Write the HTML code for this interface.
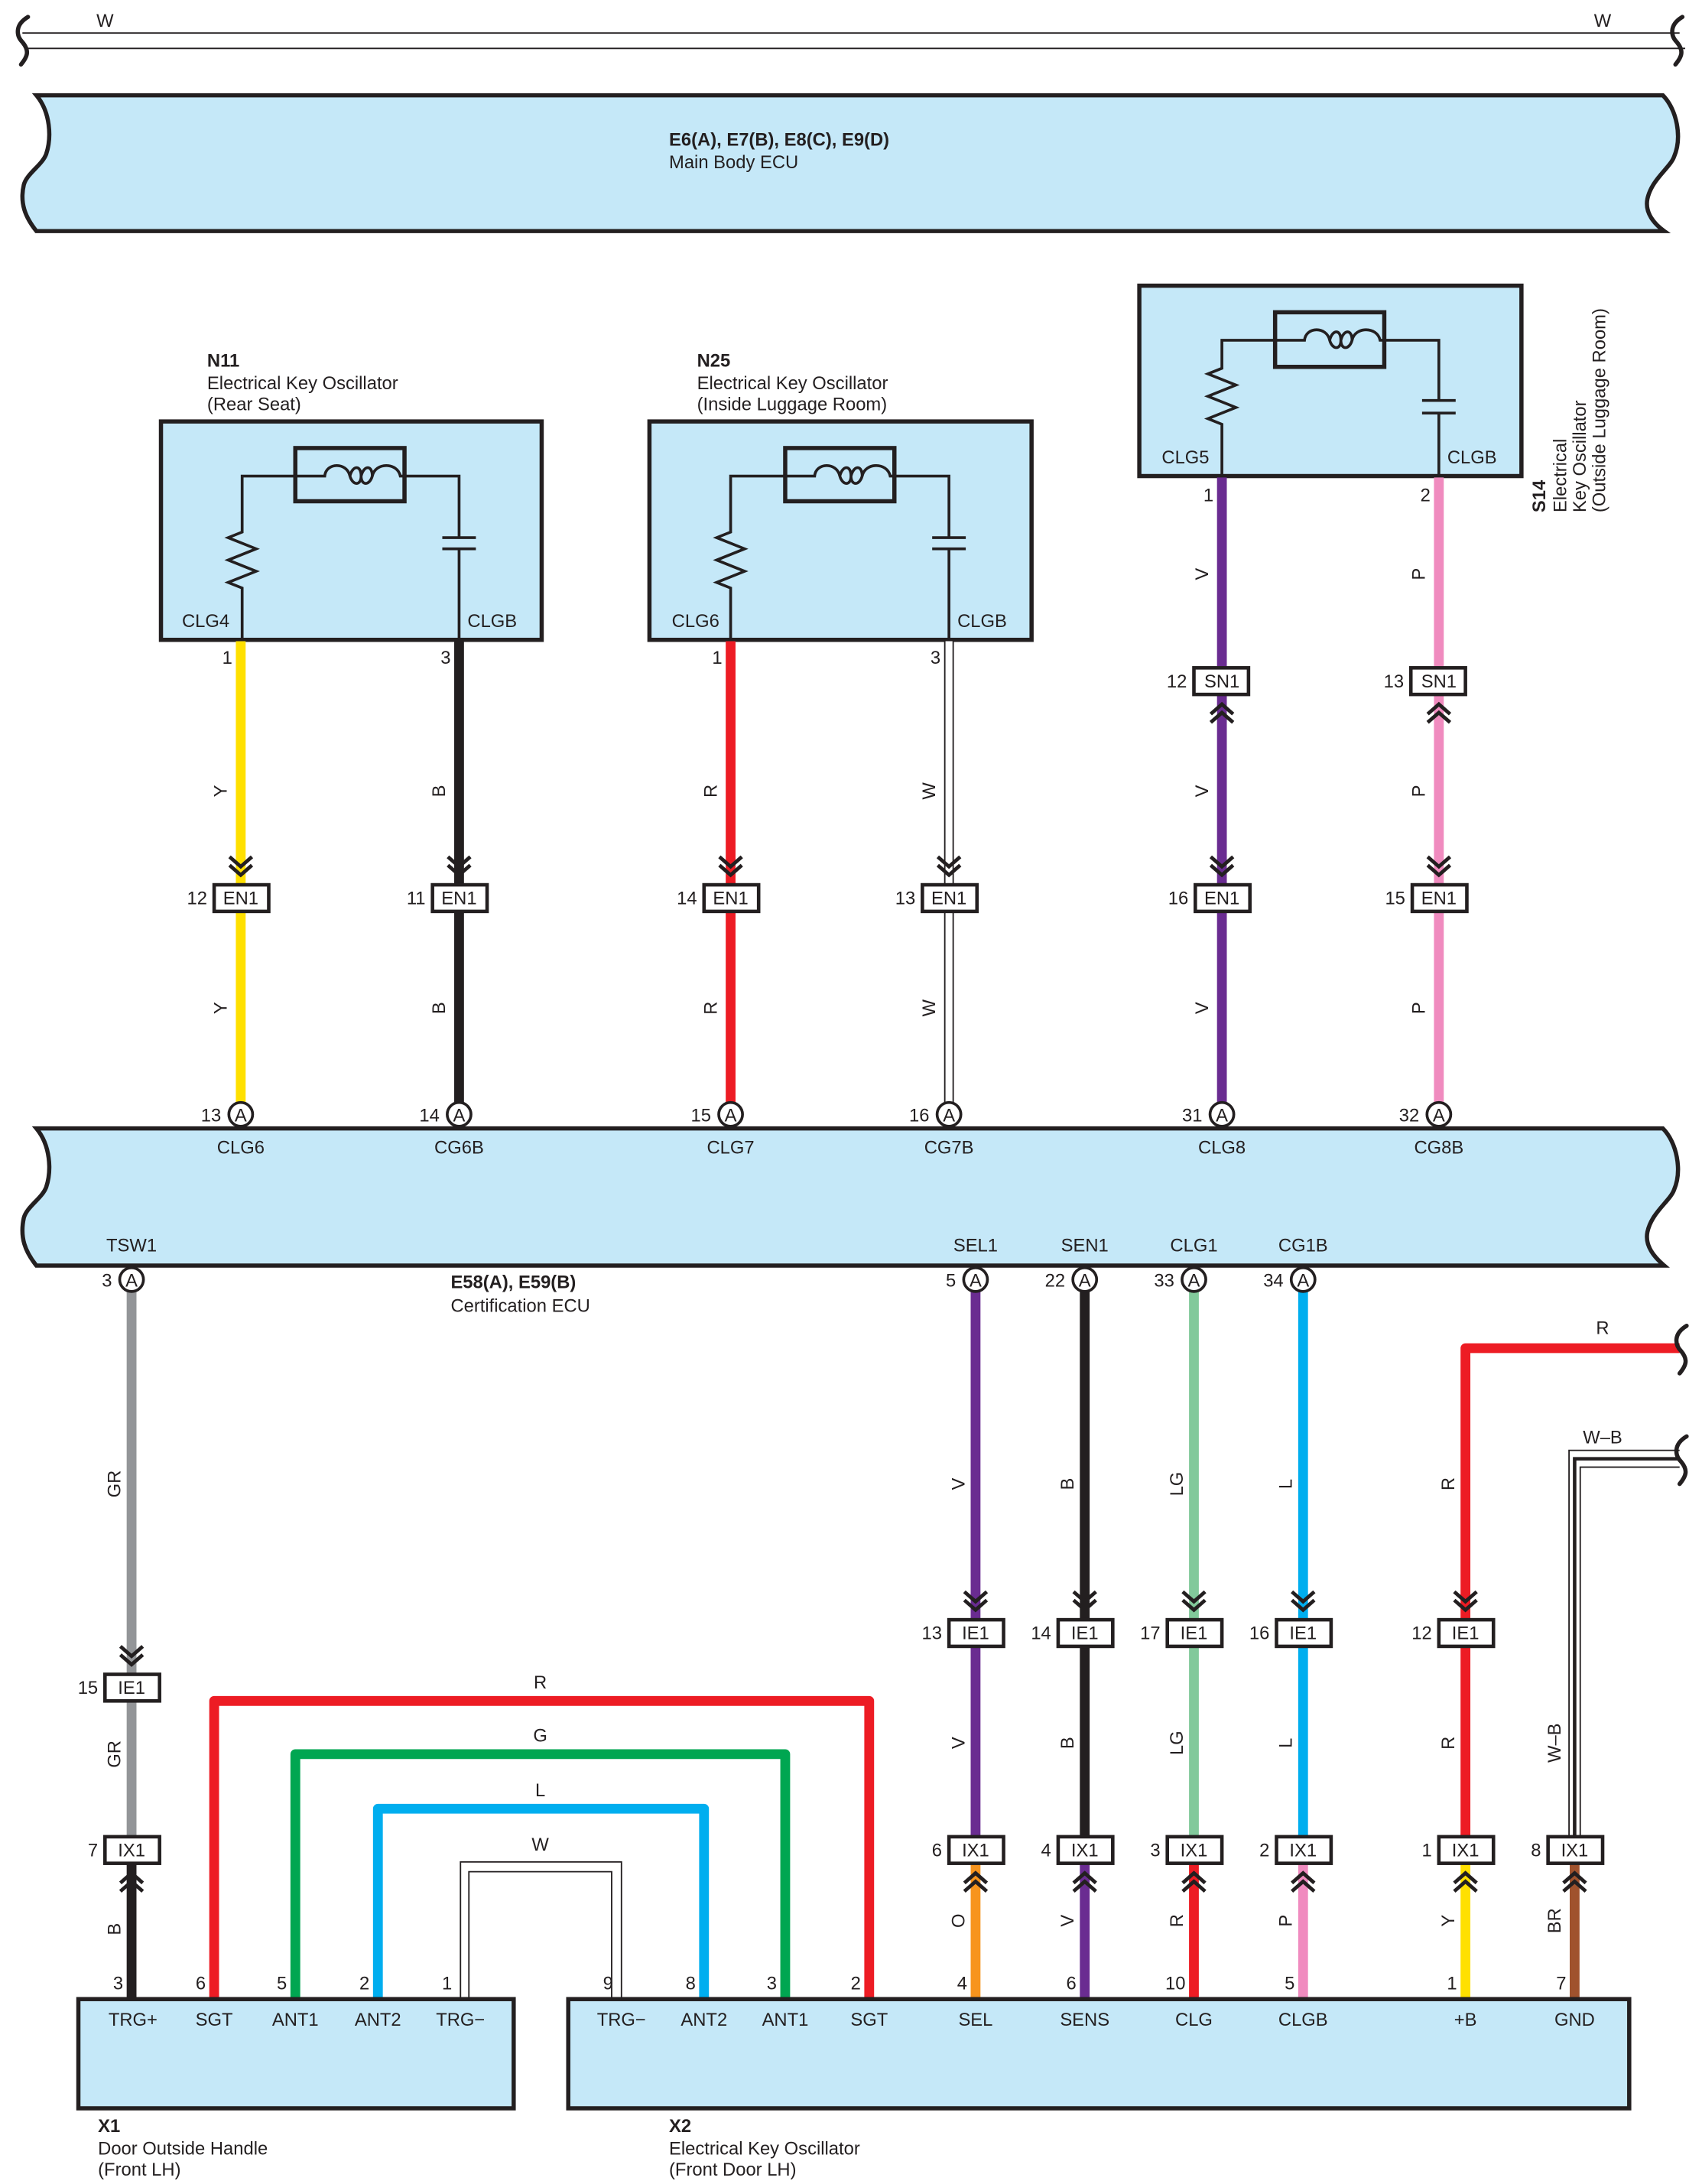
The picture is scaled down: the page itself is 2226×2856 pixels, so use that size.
<!DOCTYPE html>
<html><head><meta charset="utf-8"><style>
html,body{margin:0;padding:0;background:#fff}
svg{display:block}
text{font-family:"Liberation Sans",sans-serif;font-size:13px;fill:#231f20}
.b{font-weight:bold}
.m{text-anchor:middle}
.e{text-anchor:end}
</style></head><body>
<svg width="2226" height="2856" viewBox="0 0 1216 1560" xmlns="http://www.w3.org/2000/svg">
<defs>
<g id="cd" fill="none" stroke="#231f20" stroke-width="2.6"><path d="M-8,-20 L0,-13 L8,-20"/><path d="M-8,-14 L0,-7 L8,-14"/></g>
<g id="cu" fill="none" stroke="#231f20" stroke-width="2.6"><path d="M-8,20 L0,13 L8,20"/><path d="M-8,14 L0,7 L8,14"/></g>
<path id="sq" d="M4,-16 C-6,-8 -2,-2 2,2 C6,8 4,12 0,16" fill="none" stroke="#231f20" stroke-width="3" stroke-linecap="round"/>
</defs>

<!-- top W wire -->
<line x1="16" y1="23.5" x2="1200" y2="23.5" stroke="#231f20" stroke-width="1"/>
<line x1="20" y1="34.5" x2="1204" y2="34.5" stroke="#231f20" stroke-width="1"/>
<path d="M20,12 C10,18 12,26 16,30 C21,36 20,40 15,46" fill="none" stroke="#231f20" stroke-width="3" stroke-linecap="round"/>
<path d="M1202,12 C1192,18 1194,26 1198,30 C1203,36 1202,40 1197,46" fill="none" stroke="#231f20" stroke-width="3" stroke-linecap="round"/>
<text x="75" y="19" class="m">W</text><text x="1145" y="19" class="m">W</text>

<!-- Main Body ECU -->
<path d="M26,68 H1188 C1198,78 1202,98 1196,112 C1193,120 1180,128 1177,142 C1175,152 1182,160 1189,165 H26 C18,155 14,145 17,132 C19,124 30,118 33,110 C37,98 36,80 26,68 Z" fill="#c5e8f8" stroke="#231f20" stroke-width="3"/>
<text x="478" y="104" class="b">E6(A), E7(B), E8(C), E9(D)</text>
<text x="478" y="120">Main Body ECU</text>

<!-- N11 -->
<text x="148" y="262" class="b">N11</text>
<text x="148" y="278">Electrical Key Oscillator</text>
<text x="148" y="293">(Rear Seat)</text>
<rect x="115" y="301" width="272" height="156" fill="#c5e8f8" stroke="#231f20" stroke-width="3"/>
<g fill="none" stroke="#231f20" stroke-width="2">
<rect x="211" y="320" width="78" height="38" stroke-width="3"/>
<path d="M173,457 V420 L163,416 L183,408 L163,400 L183,392 L163,384 L173,380 V340 H232 C233,330 248,330 250,340 C252,347 258,347 258,340 C258,332 252,332 250,340 M258,340 C258,347 264,347 266,340 C266,332 260,332 258,340 M266,340 C268,330 284,330 286,340 H328 V384 M316,384 H340 M316,392 H340 M328,392 V457" />
</g>
<text x="130" y="448">CLG4</text><text x="334" y="448">CLGB</text>

<!-- N25 -->
<text x="498" y="262" class="b">N25</text>
<text x="498" y="278">Electrical Key Oscillator</text>
<text x="498" y="293">(Inside Luggage Room)</text>
<rect x="464" y="301" width="273" height="156" fill="#c5e8f8" stroke="#231f20" stroke-width="3"/>
<g fill="none" stroke="#231f20" stroke-width="2">
<rect x="561" y="320" width="78" height="38" stroke-width="3"/>
<path d="M522,457 V420 L512,416 L532,408 L512,400 L532,392 L512,384 L522,380 V340 H582 C583,330 598,330 600,340 C602,347 608,347 608,340 C608,332 602,332 600,340 M608,340 C608,347 614,347 616,340 C616,332 610,332 608,340 M616,340 C618,330 634,330 636,340 H678 V384 M666,384 H690 M666,392 H690 M678,392 V457" />
</g>
<text x="480" y="448">CLG6</text><text x="684" y="448">CLGB</text>

<!-- S14 -->
<rect x="814" y="204" width="273" height="136" fill="#c5e8f8" stroke="#231f20" stroke-width="3"/>
<g fill="none" stroke="#231f20" stroke-width="2">
<rect x="911" y="223" width="78" height="39" stroke-width="3"/>
<path d="M873,340 V303 L863,299 L883,291 L863,283 L883,275 L863,267 L873,263 V243 H932 C933,233 948,233 950,243 C952,250 958,250 958,243 C958,235 952,235 950,243 M958,243 C958,250 964,250 966,243 C966,235 960,235 958,243 M966,243 C968,233 984,233 986,243 H1028 V286 M1016,286 H1040 M1016,295 H1040 M1028,295 V340" />
</g>
<text x="830" y="331">CLG5</text><text x="1034" y="331">CLGB</text>
<g transform="translate(1104,366) rotate(-90)"><text x="0" y="0" class="b">S14</text><text x="0" y="15">Electrical</text><text x="0" y="29">Key Oscillator</text><text x="0" y="43">(Outside Luggage Room)</text></g>

<!-- upper wires -->
<g stroke-width="7" fill="none">
<line x1="172" y1="458" x2="172" y2="790" stroke="#ffe000"/>
<line x1="328" y1="458" x2="328" y2="790" stroke="#231f20"/>
<line x1="522" y1="458" x2="522" y2="790" stroke="#ed1c24"/>
<line x1="873" y1="341" x2="873" y2="790" stroke="#6a2c91"/>
<line x1="1028" y1="341" x2="1028" y2="790" stroke="#f08bbf"/>
</g>
<line x1="678" y1="458" x2="678" y2="790" stroke="#231f20" stroke-width="7"/>
<line x1="678" y1="458" x2="678" y2="790" stroke="#fff" stroke-width="5"/>

<!-- wire labels upper -->
<g>
<text transform="translate(162,565) rotate(-90)" class="m">Y</text>
<text transform="translate(162,720) rotate(-90)" class="m">Y</text>
<text transform="translate(318,565) rotate(-90)" class="m">B</text>
<text transform="translate(318,720) rotate(-90)" class="m">B</text>
<text transform="translate(512,565) rotate(-90)" class="m">R</text>
<text transform="translate(512,720) rotate(-90)" class="m">R</text>
<text transform="translate(668,565) rotate(-90)" class="m">W</text>
<text transform="translate(668,720) rotate(-90)" class="m">W</text>
<text transform="translate(863,410) rotate(-90)" class="m">V</text>
<text transform="translate(863,565) rotate(-90)" class="m">V</text>
<text transform="translate(863,720) rotate(-90)" class="m">V</text>
<text transform="translate(1018,410) rotate(-90)" class="m">P</text>
<text transform="translate(1018,565) rotate(-90)" class="m">P</text>
<text transform="translate(1018,720) rotate(-90)" class="m">P</text>
</g>
<text x="166" y="474" class="e">1</text><text x="322" y="474" class="e">3</text>
<text x="516" y="474" class="e">1</text><text x="672" y="474" class="e">3</text>
<text x="867" y="358" class="e">1</text><text x="1022" y="358" class="e">2</text>

<!-- SN1 connectors -->
<g>
<rect x="853" y="477" width="39" height="19" fill="#fff" stroke="#231f20" stroke-width="2.5"/><text x="873" y="491" class="m">SN1</text><text x="848" y="491" class="e">12</text>
<use href="#cu" x="873" y="496"/>
<rect x="1008" y="477" width="39" height="19" fill="#fff" stroke="#231f20" stroke-width="2.5"/><text x="1028" y="491" class="m">SN1</text><text x="1003" y="491" class="e">13</text>
<use href="#cu" x="1028" y="496"/>
</g>
<!-- EN1 connectors -->
<g>
<use href="#cd" x="172" y="632"/><rect x="153" y="632" width="39" height="19" fill="#fff" stroke="#231f20" stroke-width="2.5"/><text x="172" y="646" class="m">EN1</text><text x="148" y="646" class="e">12</text>
<use href="#cd" x="328" y="632"/><rect x="309" y="632" width="39" height="19" fill="#fff" stroke="#231f20" stroke-width="2.5"/><text x="328" y="646" class="m">EN1</text><text x="304" y="646" class="e">11</text>
<use href="#cd" x="522" y="632"/><rect x="503" y="632" width="39" height="19" fill="#fff" stroke="#231f20" stroke-width="2.5"/><text x="522" y="646" class="m">EN1</text><text x="498" y="646" class="e">14</text>
<use href="#cd" x="678" y="632"/><rect x="659" y="632" width="39" height="19" fill="#fff" stroke="#231f20" stroke-width="2.5"/><text x="678" y="646" class="m">EN1</text><text x="654" y="646" class="e">13</text>
<use href="#cd" x="873" y="632"/><rect x="854" y="632" width="39" height="19" fill="#fff" stroke="#231f20" stroke-width="2.5"/><text x="873" y="646" class="m">EN1</text><text x="849" y="646" class="e">16</text>
<use href="#cd" x="1028" y="632"/><rect x="1009" y="632" width="39" height="19" fill="#fff" stroke="#231f20" stroke-width="2.5"/><text x="1028" y="646" class="m">EN1</text><text x="1004" y="646" class="e">15</text>
</g>

<!-- Certification ECU -->
<path d="M26,806 H1188 C1198,816 1202,836 1196,850 C1193,858 1180,866 1177,880 C1175,890 1182,898 1189,904 H26 C18,894 14,884 17,870 C19,862 30,856 33,848 C37,836 36,818 26,806 Z" fill="#c5e8f8" stroke="#231f20" stroke-width="3"/>
<g>
<text x="172" y="824" class="m">CLG6</text><text x="328" y="824" class="m">CG6B</text><text x="522" y="824" class="m">CLG7</text><text x="678" y="824" class="m">CG7B</text><text x="873" y="824" class="m">CLG8</text><text x="1028" y="824" class="m">CG8B</text>
<text x="94" y="894" class="m">TSW1</text><text x="697" y="894" class="m">SEL1</text><text x="775" y="894" class="m">SEN1</text><text x="853" y="894" class="m">CLG1</text><text x="931" y="894" class="m">CG1B</text>
</g>
<text x="322" y="920" class="b">E58(A), E59(B)</text>
<text x="322" y="937">Certification ECU</text>

<!-- lower wires -->
<g stroke-width="7" fill="none" stroke-linejoin="round">
<line x1="94" y1="920" x2="94" y2="1321" stroke="#939598"/>
<line x1="94" y1="1321" x2="94" y2="1428" stroke="#231f20"/>
<line x1="697" y1="920" x2="697" y2="1321" stroke="#6a2c91"/>
<line x1="697" y1="1321" x2="697" y2="1428" stroke="#f7941d"/>
<line x1="775" y1="920" x2="775" y2="1321" stroke="#231f20"/>
<line x1="775" y1="1321" x2="775" y2="1428" stroke="#6a2c91"/>
<line x1="853" y1="920" x2="853" y2="1321" stroke="#82c99b"/>
<line x1="853" y1="1321" x2="853" y2="1428" stroke="#ed1c24"/>
<line x1="931" y1="920" x2="931" y2="1321" stroke="#00aeef"/>
<line x1="931" y1="1321" x2="931" y2="1428" stroke="#f08bbf"/>
<path d="M1200,963 H1047 V1321" stroke="#ed1c24"/>
<line x1="1047" y1="1321" x2="1047" y2="1428" stroke="#ffe000"/>
<line x1="1125" y1="1321" x2="1125" y2="1428" stroke="#a0522d"/>
<path d="M153,1428 V1215 H621 V1428" stroke="#ed1c24"/>
<path d="M211,1428 V1253 H561 V1428" stroke="#00a651"/>
<path d="M270,1428 V1292 H503 V1428" stroke="#00aeef"/>
</g>
<!-- W loop (white double) -->
<path d="M329,1428 V1330 H444 V1428" fill="none" stroke="#231f20" stroke-width="1"/>
<path d="M335,1428 V1337 H437 V1428" fill="none" stroke="#231f20" stroke-width="1"/>
<!-- W-B -->
<path d="M1200,1036 H1121 V1321" fill="none" stroke="#231f20" stroke-width="1"/>
<path d="M1200,1042 H1125 V1321" fill="none" stroke="#231f20" stroke-width="2.5"/>
<path d="M1200,1048 H1129 V1321" fill="none" stroke="#231f20" stroke-width="1"/>
<path d="M1205,947 C1195,953 1197,961 1201,965 C1206,971 1205,975 1200,981" fill="none" stroke="#231f20" stroke-width="3" stroke-linecap="round"/>
<path d="M1205,1026 C1195,1032 1197,1040 1201,1044 C1206,1050 1205,1054 1200,1060" fill="none" stroke="#231f20" stroke-width="3" stroke-linecap="round"/>
<text x="1145" y="953" class="m">R</text>
<text x="1145" y="1031" class="m">W–B</text>
<text x="386" y="1206" class="m">R</text>
<text x="386" y="1244" class="m">G</text>
<text x="386" y="1283" class="m">L</text>
<text x="386" y="1322" class="m">W</text>

<!-- pin circles -->
<g>
<circle cx="172" cy="796" r="8.5" fill="#fff" stroke="#231f20" stroke-width="2"/><text x="172" y="801" class="m">A</text><text x="158" y="801" class="e">13</text>
<circle cx="328" cy="796" r="8.5" fill="#fff" stroke="#231f20" stroke-width="2"/><text x="328" y="801" class="m">A</text><text x="314" y="801" class="e">14</text>
<circle cx="522" cy="796" r="8.5" fill="#fff" stroke="#231f20" stroke-width="2"/><text x="522" y="801" class="m">A</text><text x="508" y="801" class="e">15</text>
<circle cx="678" cy="796" r="8.5" fill="#fff" stroke="#231f20" stroke-width="2"/><text x="678" y="801" class="m">A</text><text x="664" y="801" class="e">16</text>
<circle cx="873" cy="796" r="8.5" fill="#fff" stroke="#231f20" stroke-width="2"/><text x="873" y="801" class="m">A</text><text x="859" y="801" class="e">31</text>
<circle cx="1028" cy="796" r="8.5" fill="#fff" stroke="#231f20" stroke-width="2"/><text x="1028" y="801" class="m">A</text><text x="1014" y="801" class="e">32</text>
<circle cx="94" cy="914" r="8.5" fill="#fff" stroke="#231f20" stroke-width="2"/><text x="94" y="919" class="m">A</text><text x="80" y="919" class="e">3</text>
<circle cx="697" cy="914" r="8.5" fill="#fff" stroke="#231f20" stroke-width="2"/><text x="697" y="919" class="m">A</text><text x="683" y="919" class="e">5</text>
<circle cx="775" cy="914" r="8.5" fill="#fff" stroke="#231f20" stroke-width="2"/><text x="775" y="919" class="m">A</text><text x="761" y="919" class="e">22</text>
<circle cx="853" cy="914" r="8.5" fill="#fff" stroke="#231f20" stroke-width="2"/><text x="853" y="919" class="m">A</text><text x="839" y="919" class="e">33</text>
<circle cx="931" cy="914" r="8.5" fill="#fff" stroke="#231f20" stroke-width="2"/><text x="931" y="919" class="m">A</text><text x="917" y="919" class="e">34</text>
</g>

<!-- IE1 connectors -->
<g>
<use href="#cd" x="94" y="1196"/><rect x="75" y="1196" width="39" height="19" fill="#fff" stroke="#231f20" stroke-width="2.5"/><text x="94" y="1210" class="m">IE1</text><text x="70" y="1210" class="e">15</text>
<use href="#cd" x="697" y="1157"/><rect x="678" y="1157" width="39" height="19" fill="#fff" stroke="#231f20" stroke-width="2.5"/><text x="697" y="1171" class="m">IE1</text><text x="673" y="1171" class="e">13</text>
<use href="#cd" x="775" y="1157"/><rect x="756" y="1157" width="39" height="19" fill="#fff" stroke="#231f20" stroke-width="2.5"/><text x="775" y="1171" class="m">IE1</text><text x="751" y="1171" class="e">14</text>
<use href="#cd" x="853" y="1157"/><rect x="834" y="1157" width="39" height="19" fill="#fff" stroke="#231f20" stroke-width="2.5"/><text x="853" y="1171" class="m">IE1</text><text x="829" y="1171" class="e">17</text>
<use href="#cd" x="931" y="1157"/><rect x="912" y="1157" width="39" height="19" fill="#fff" stroke="#231f20" stroke-width="2.5"/><text x="931" y="1171" class="m">IE1</text><text x="907" y="1171" class="e">16</text>
<use href="#cd" x="1047" y="1157"/><rect x="1028" y="1157" width="39" height="19" fill="#fff" stroke="#231f20" stroke-width="2.5"/><text x="1047" y="1171" class="m">IE1</text><text x="1023" y="1171" class="e">12</text>
</g>
<!-- IX1 connectors -->
<g>
<rect x="75" y="1312" width="39" height="19" fill="#fff" stroke="#231f20" stroke-width="2.5"/><text x="94" y="1326" class="m">IX1</text><text x="70" y="1326" class="e">7</text><use href="#cu" x="94" y="1331"/>
<rect x="678" y="1312" width="39" height="19" fill="#fff" stroke="#231f20" stroke-width="2.5"/><text x="697" y="1326" class="m">IX1</text><text x="673" y="1326" class="e">6</text><use href="#cu" x="697" y="1331"/>
<rect x="756" y="1312" width="39" height="19" fill="#fff" stroke="#231f20" stroke-width="2.5"/><text x="775" y="1326" class="m">IX1</text><text x="751" y="1326" class="e">4</text><use href="#cu" x="775" y="1331"/>
<rect x="834" y="1312" width="39" height="19" fill="#fff" stroke="#231f20" stroke-width="2.5"/><text x="853" y="1326" class="m">IX1</text><text x="829" y="1326" class="e">3</text><use href="#cu" x="853" y="1331"/>
<rect x="912" y="1312" width="39" height="19" fill="#fff" stroke="#231f20" stroke-width="2.5"/><text x="931" y="1326" class="m">IX1</text><text x="907" y="1326" class="e">2</text><use href="#cu" x="931" y="1331"/>
<rect x="1028" y="1312" width="39" height="19" fill="#fff" stroke="#231f20" stroke-width="2.5"/><text x="1047" y="1326" class="m">IX1</text><text x="1023" y="1326" class="e">1</text><use href="#cu" x="1047" y="1331"/>
<rect x="1106" y="1312" width="39" height="19" fill="#fff" stroke="#231f20" stroke-width="2.5"/><text x="1125" y="1326" class="m">IX1</text><text x="1101" y="1326" class="e">8</text><use href="#cu" x="1125" y="1331"/>
</g>

<!-- lower wire labels -->
<g>
<text transform="translate(86,1060) rotate(-90)" class="m">GR</text>
<text transform="translate(86,1253) rotate(-90)" class="m">GR</text>
<text transform="translate(86,1378) rotate(-90)" class="m">B</text>
<text transform="translate(689,1060) rotate(-90)" class="m">V</text>
<text transform="translate(689,1245) rotate(-90)" class="m">V</text>
<text transform="translate(689,1372) rotate(-90)" class="m">O</text>
<text transform="translate(767,1060) rotate(-90)" class="m">B</text>
<text transform="translate(767,1245) rotate(-90)" class="m">B</text>
<text transform="translate(767,1372) rotate(-90)" class="m">V</text>
<text transform="translate(845,1060) rotate(-90)" class="m">LG</text>
<text transform="translate(845,1245) rotate(-90)" class="m">LG</text>
<text transform="translate(845,1372) rotate(-90)" class="m">R</text>
<text transform="translate(923,1060) rotate(-90)" class="m">L</text>
<text transform="translate(923,1245) rotate(-90)" class="m">L</text>
<text transform="translate(923,1372) rotate(-90)" class="m">P</text>
<text transform="translate(1039,1060) rotate(-90)" class="m">R</text>
<text transform="translate(1039,1245) rotate(-90)" class="m">R</text>
<text transform="translate(1039,1372) rotate(-90)" class="m">Y</text>
<text transform="translate(1115,1245) rotate(-90)" class="m">W–B</text>
<text transform="translate(1115,1372) rotate(-90)" class="m">BR</text>
</g>

<!-- X1 / X2 -->
<rect x="56" y="1428" width="311" height="78" fill="#c5e8f8" stroke="#231f20" stroke-width="3"/>
<rect x="406" y="1428" width="758" height="78" fill="#c5e8f8" stroke="#231f20" stroke-width="3"/>
<g>
<text x="95" y="1447" class="m">TRG+</text><text x="153" y="1447" class="m">SGT</text><text x="211" y="1447" class="m">ANT1</text><text x="270" y="1447" class="m">ANT2</text><text x="329" y="1447" class="m">TRG−</text>
<text x="444" y="1447" class="m">TRG−</text><text x="503" y="1447" class="m">ANT2</text><text x="561" y="1447" class="m">ANT1</text><text x="621" y="1447" class="m">SGT</text><text x="697" y="1447" class="m">SEL</text><text x="775" y="1447" class="m">SENS</text><text x="853" y="1447" class="m">CLG</text><text x="931" y="1447" class="m">CLGB</text><text x="1047" y="1447" class="m">+B</text><text x="1125" y="1447" class="m">GND</text>
</g>
<g>
<text x="88" y="1421" class="e">3</text><text x="147" y="1421" class="e">6</text><text x="205" y="1421" class="e">5</text><text x="264" y="1421" class="e">2</text><text x="323" y="1421" class="e">1</text>
<text x="438" y="1421" class="e">9</text><text x="497" y="1421" class="e">8</text><text x="555" y="1421" class="e">3</text><text x="615" y="1421" class="e">2</text><text x="691" y="1421" class="e">4</text><text x="769" y="1421" class="e">6</text><text x="847" y="1421" class="e">10</text><text x="925" y="1421" class="e">5</text><text x="1041" y="1421" class="e">1</text><text x="1119" y="1421" class="e">7</text>
</g>
<text x="70" y="1523" class="b">X1</text>
<text x="70" y="1539">Door Outside Handle</text>
<text x="70" y="1554">(Front LH)</text>
<text x="478" y="1523" class="b">X2</text>
<text x="478" y="1539">Electrical Key Oscillator</text>
<text x="478" y="1554">(Front Door LH)</text>
</svg>
</body></html>
